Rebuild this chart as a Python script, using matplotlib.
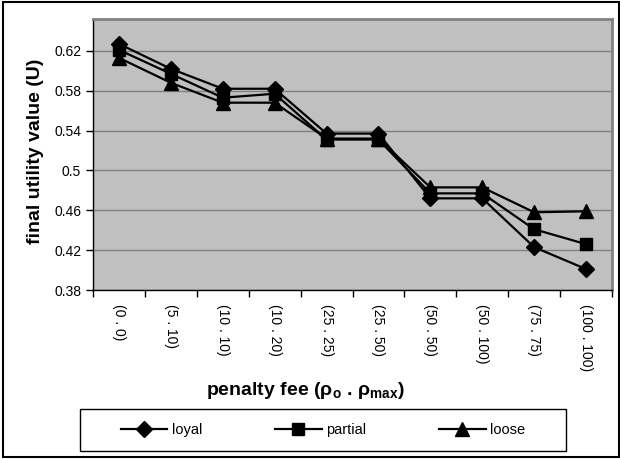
import matplotlib.pyplot as plt
from matplotlib.patches import Rectangle
import numpy as np

plt.rcParams['font.family'] = ['Liberation Sans', 'DejaVu Sans']
plt.rcParams['mathtext.default'] = 'regular'

fees = ['(0 . 0)', '(5 . 10)', '(10 . 10)', '(10 . 20)', '(25 . 25)',
        '(25 . 50)', '(50 . 50)', '(50 . 100)', '(75 . 75)', '(100 . 100)']
loyal = [0.627, 0.602, 0.582, 0.582, 0.537, 0.537, 0.472, 0.472, 0.423, 0.401]
partial = [0.621, 0.597, 0.573, 0.577, 0.531, 0.531, 0.477, 0.477, 0.441, 0.426]
loose = [0.613, 0.588, 0.568, 0.568, 0.532, 0.532, 0.483, 0.483, 0.458, 0.459]

fig = plt.figure(figsize=(6.2, 4.59), dpi=100)
ax = fig.add_axes([93/620, 1 - 290/459, (612-93)/620, (290-19)/459])
ax.set_facecolor('#c0c0c0')

x = np.arange(len(fees))
ax.plot(x, loyal, color='black', lw=1.6, marker='D', ms=8, label='loyal')
ax.plot(x, partial, color='black', lw=1.6, marker='s', ms=8.5, label='partial')
ax.plot(x, loose, color='black', lw=1.6, marker='^', ms=10, label='loose')

ax.set_xlim(-0.5, len(fees) - 0.5)
ax.set_ylim(0.38, 0.652)
ax.set_yticks(np.arange(0.38, 0.63, 0.04))
ax.set_yticklabels(['0.38', '0.42', '0.46', '0.5', '0.54', '0.58', '0.62'])
ax.yaxis.grid(True, color='#808080', lw=1)
ax.set_axisbelow(True)

ax.set_xticks(x)
ax.set_xticklabels(fees, rotation=270, fontsize=10)
ax.set_xticks(np.arange(-0.5, len(fees)), minor=True)
ax.tick_params(axis='x', which='major', length=0, pad=10)
ax.tick_params(axis='x', which='minor', length=5, direction='out', width=1)
ax.tick_params(axis='y', length=5, width=1, labelsize=10)

for s in ['top', 'right']:
    ax.spines[s].set_color('#808080')
    ax.spines[s].set_linewidth(2)
for s in ['left', 'bottom']:
    ax.spines[s].set_color('black')
    ax.spines[s].set_linewidth(1)

ax.set_ylabel('final utility value (U)', fontsize=14, fontweight='bold')
ax.yaxis.set_label_coords(-0.094, 0.51)
ax.set_xlabel('penalty fee (ρ$_{o}$ . ρ$_{max}$)', fontsize=14, fontweight='bold')
ax.xaxis.set_label_coords(0.41, -0.333)

# legend box
fig.patches.append(Rectangle((80/620, 1 - 451/459), (566-80)/620, 42/459,
                             transform=fig.transFigure, fill=False, ec='black', lw=1))
fig.legend(loc='center', bbox_to_anchor=(323/620, 1 - 430/459), ncol=3,
           frameon=False, handlelength=3.2, fontsize=10.5, handletextpad=0.3,
           columnspacing=5.0)

fig.patches.append(Rectangle((3/620, 1 - 457/459), (619-3)/620, (457-2)/459,
                             transform=fig.transFigure, fill=False, ec='black', lw=1.5))

fig.savefig('out.png', dpi=100)
